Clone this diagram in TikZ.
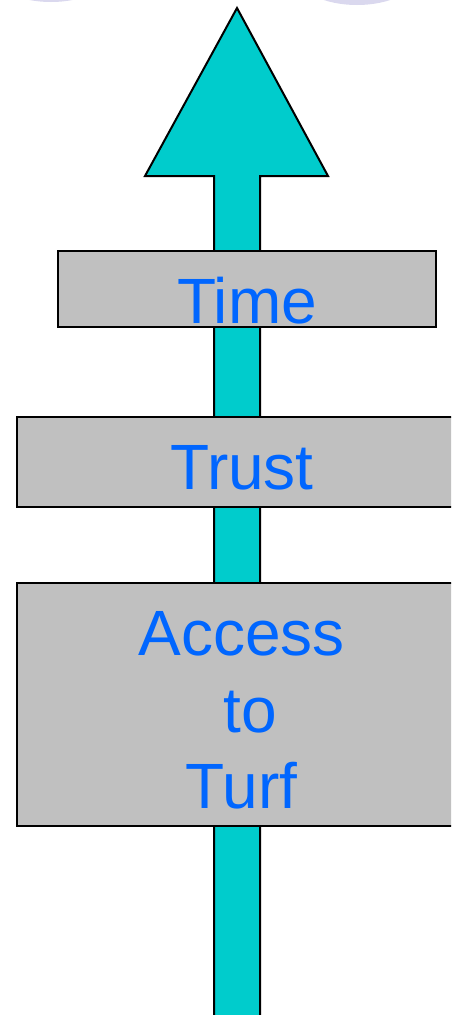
\documentclass[tikz,border=0pt]{standalone}
\usepackage{fontspec}
\setmainfont{Liberation Sans}
\definecolor{arrowfill}{RGB}{0,204,204}
\definecolor{boxfill}{RGB}{192,192,192}
\definecolor{labelblue}{RGB}{0,102,255}
\definecolor{lavender}{RGB}{218,216,238}
\tikzset{
  boxstyle/.style={draw=black, line width=2pt, fill=boxfill},
  labelstyle/.style={inner sep=0pt, anchor=base, text=labelblue, font=\fontsize{64}{77}\selectfont},
  arrowstyle/.style={draw=black, line width=2pt, fill=arrowfill, line join=miter},
}
\begin{document}
\begin{tikzpicture}[x=1pt,y=-1pt]
\useasboundingbox (0,0) rectangle (451,1015);
\clip (0,0) rectangle (451,1015);
% decorative lavender ellipses cut by the top edge
\fill[lavender] (51,-28) ellipse [x radius=60, y radius=30];
\fill[lavender] (357,-25) ellipse [x radius=60, y radius=30];
% the big arrow
\coordinate (tip) at (237,8);
\coordinate (hr) at (328,176);
\coordinate (hl) at (145,176);
\coordinate (sr) at (260,176);
\coordinate (sl) at (214,176);
\coordinate (br) at (260,1025);
\coordinate (bl) at (214,1025);
\draw[arrowstyle] (tip) -- (hr) -- (sr) -- (br) -- (bl) -- (sl) -- (hl) -- cycle;
% boxes
\draw[boxstyle] (58,251) rectangle (436,327);
\draw[boxstyle] (17,417) rectangle (475,507);
\draw[boxstyle] (17,583) rectangle (475,826);
% labels
\node[labelstyle] (time) at (247,323) {Time};
\node[labelstyle] (trust) at (242,489) {Trust};
\node[labelstyle] (access) at (241.5,655) {Access};
\node[labelstyle] (to) at (241.5,732) {\hspace*{0.278em}to};
\node[labelstyle] (turf) at (241.5,808) {Turf};
\end{tikzpicture}
\end{document}
